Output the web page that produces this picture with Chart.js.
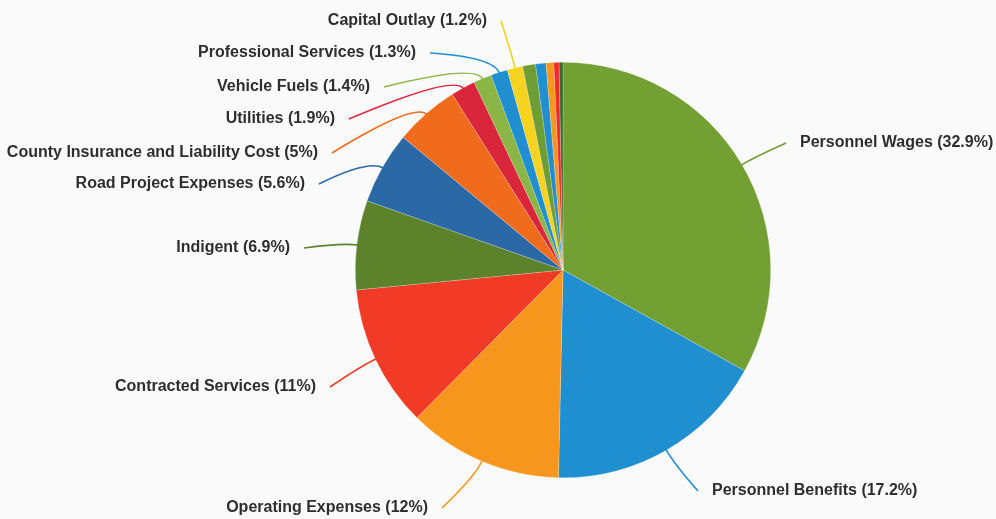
<!DOCTYPE html>
<html>
<head>
<meta charset="utf-8">
<script src="https://cdn.jsdelivr.net/npm/chart.js@4"></script>
<style>
  html, body { margin: 0; padding: 0; background: #fafafa; }
  #wrap { width: 996px; height: 519px; position: relative; }
</style>
</head>
<body>
<div id="wrap"><canvas id="pieChart"></canvas></div>
<script>
// Budget categories, clockwise from the top
const categories = [
    'Personnel Wages', 'Personnel Benefits', 'Operating Expenses', 'Contracted Services',
    'Indigent', 'Road Project Expenses', 'County Insurance and Liability Cost', 'Utilities',
    'Vehicle Fuels', 'Professional Services', 'Capital Outlay',
    '', '', '', '', ''
];
const shares = [32.9, 17.2, 12, 11, 6.9, 5.6, 5, 1.9, 1.4, 1.3, 1.2, 1.0, 0.8, 0.6, 0.4, 0.3];
const sliceColors = [
    '#72a032', '#1f8fcf', '#f7961c', '#f23b26', '#5d822c', '#2a68a6', '#f06b1b', '#d9263b',
    '#8bb545', '#1f8fd0', '#f5d320', '#6f9d35', '#1f8fcf', '#f7961c', '#ee2a2a', '#3b6b2f'
];

// label layout: text anchor x, y and side (left labels are right-aligned)
const labelLayout = [
    { x: 800, y: 143, align: 'left' },
    { x: 712, y: 491, align: 'left' },
    { x: 428, y: 508, align: 'right' },
    { x: 316, y: 387, align: 'right' },
    { x: 290, y: 248, align: 'right' },
    { x: 305, y: 184, align: 'right' },
    { x: 318, y: 153, align: 'right' },
    { x: 335, y: 119, align: 'right' },
    { x: 370, y: 87, align: 'right' },
    { x: 416, y: 53, align: 'right' },
    { x: 487, y: 21, align: 'right' }
];

const outsideLabels = {
    id: 'outsideLabels',
    afterDatasetsDraw(chart) {
        const ctx = chart.ctx;
        const arcs = chart.getDatasetMeta(0).data;
        ctx.save();
        ctx.font = 'bold 16px "Liberation Sans", Arial, sans-serif';
        ctx.textBaseline = 'middle';
        arcs.forEach((arc, i) => {
            const pos = labelLayout[i];
            if (!pos || !categories[i]) return;
            const p = arc.getProps(['x', 'y', 'startAngle', 'endAngle', 'outerRadius'], true);
            const mid = (p.startAngle + p.endAngle) / 2;
            const r = p.outerRadius;
            const sx = p.x + Math.cos(mid) * (r - 1);
            const sy = p.y + Math.sin(mid) * (r - 1);
            const cx = p.x + Math.cos(mid) * (r + 16);
            const cy = p.y + Math.sin(mid) * (r + 16);
            const ex = pos.align === 'left' ? pos.x - 14 : pos.x + 14;
            const ey = pos.y;

            ctx.strokeStyle = sliceColors[i];
            ctx.lineWidth = 1.6;
            ctx.beginPath();
            ctx.moveTo(sx, sy);
            ctx.quadraticCurveTo(cx, cy, ex, ey);
            ctx.stroke();

            ctx.fillStyle = '#2e2e2e';
            ctx.textAlign = pos.align;
            ctx.fillText(categories[i] + ' (' + shares[i] + '%)', pos.x, pos.y);
        });
        ctx.restore();
    }
};

new Chart(document.getElementById('pieChart'), {
    type: 'pie',
    data: {
        labels: categories,
        datasets: [{
            data: shares,
            backgroundColor: sliceColors,
            borderColor: 'rgba(255,255,255,0.35)',
            borderWidth: 0.6
        }]
    },
    options: {
        responsive: true,
        maintainAspectRatio: false,
        animation: false,
        layout: {
            padding: { left: 355, right: 225, top: 62, bottom: 41 }
        },
        plugins: {
            legend: { display: false },
            tooltip: { enabled: false }
        }
    },
    plugins: [outsideLabels]
});
</script>
</body>
</html>
